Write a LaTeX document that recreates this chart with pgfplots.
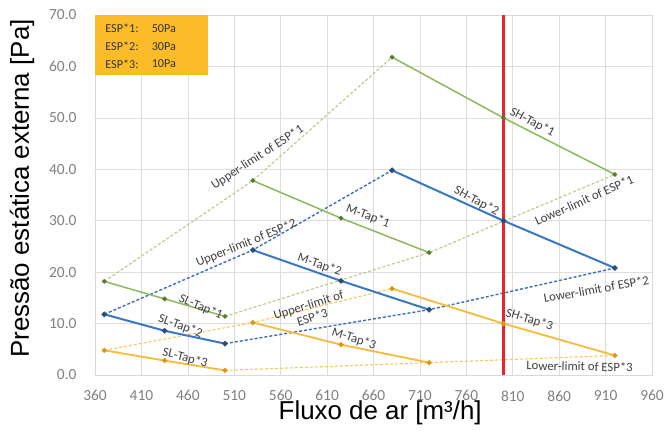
\documentclass[border=0pt]{standalone}
\usepackage{pgfplots}
\pgfplotsset{compat=1.18}
\usepackage{fontspec}
\setmainfont{Carlito}
\newfontfamily\arial{Liberation Sans}

\definecolor{gsol}{HTML}{8DB85E}
\definecolor{gdash}{HTML}{B3CB88}
\definecolor{gmark}{HTML}{557A30}
\definecolor{bsol}{HTML}{3A78C2}
\definecolor{bdash}{HTML}{3B6EBF}
\definecolor{bmark}{HTML}{2C4D7C}
\definecolor{osol}{HTML}{F7BA3A}
\definecolor{odash}{HTML}{F9C65C}
\definecolor{omark}{HTML}{D89A10}
\definecolor{redl}{HTML}{E8242C}
\definecolor{boxor}{HTML}{FCBC2A}
\definecolor{annot}{HTML}{404040}

\newcommand{\ann}{\fontsize{12.8}{13}\selectfont}

\begin{document}
\begin{tikzpicture}
\begin{axis}[
  scale only axis, width=557bp, height=360bp,
  xmin=360, xmax=960, ymin=0, ymax=70,
  xtick={360,410,...,960}, ytick={0,10,...,70},
  grid=major, grid style={draw=black!13, line width=0.6bp},
  axis line style={draw=black!15},
  major tick length=0pt,
  /pgf/number format/assume math mode=true,
  /pgf/number format/set thousands separator={},
  ticklabel style={font=\fontsize{15.5}{17}\selectfont, text=black!50},
  yticklabel style={/pgf/number format/fixed, /pgf/number format/fixed zerofill, /pgf/number format/precision=1, xshift=-15bp},
  xticklabel style={yshift=-12bp},
  xlabel={Fluxo de ar [m³/h]},
  ylabel={Pressão estática externa [Pa]},
  xlabel style={at={(axis description cs:0.512,-0.106)}, anchor=center, font=\arial\fontsize{26}{28}\selectfont},
  ylabel style={at={(axis description cs:-0.131,0.518)}, anchor=center, font=\arial\fontsize{26}{28}\selectfont},
  clip=false,
]
% limit lines (dashed)
\addplot[gdash, line width=1.1bp, dash pattern=on 3bp off 2bp] coordinates {(370,18.2) (530,37.8) (680,61.8)};
\addplot[gdash, line width=1.1bp, dash pattern=on 3bp off 2bp] coordinates {(500,11.4) (720,23.8) (920,39.0)};
\addplot[bdash, line width=1.4bp, dash pattern=on 3bp off 2bp] coordinates {(370,11.8) (530,24.3) (680,39.8)};
\addplot[bdash, line width=1.4bp, dash pattern=on 3bp off 2bp] coordinates {(500,6.1) (720,12.7) (920,20.8)};
\addplot[odash, line width=1.1bp, dash pattern=on 3bp off 2bp] coordinates {(370,4.8) (530,10.2) (680,16.8)};
\addplot[odash, line width=1.1bp, dash pattern=on 3bp off 2bp] coordinates {(500,0.9) (720,2.4) (920,3.8)};
% tap lines, ESP*1
\addplot[gsol, line width=1.5bp, mark=*, mark size=1.5bp, mark options={fill=gmark, draw=gmark}] coordinates {(370,18.2) (435,14.8) (500,11.4)};
\addplot[gsol, line width=1.5bp, mark=*, mark size=1.5bp, mark options={fill=gmark, draw=gmark}] coordinates {(530,37.8) (625,30.5) (720,23.8)};
\addplot[gsol, line width=1.5bp, mark=*, mark size=1.5bp, mark options={fill=gmark, draw=gmark}] coordinates {(680,61.8) (800,50.0) (920,39.0)};
% ESP*2
\addplot[bsol, line width=2bp, mark=*, mark size=1.6bp, mark options={fill=bmark, draw=bmark}] coordinates {(370,11.8) (435,8.6) (500,6.1)};
\addplot[bsol, line width=2bp, mark=*, mark size=1.6bp, mark options={fill=bmark, draw=bmark}] coordinates {(530,24.3) (625,18.3) (720,12.7)};
\addplot[bsol, line width=2bp, mark=*, mark size=1.6bp, mark options={fill=bmark, draw=bmark}] coordinates {(680,39.8) (800,30.0) (920,20.8)};
% ESP*3
\addplot[osol, line width=1.8bp, mark=*, mark size=1.5bp, mark options={fill=omark, draw=omark}] coordinates {(370,4.8) (435,2.8) (500,0.9)};
\addplot[osol, line width=1.8bp, mark=*, mark size=1.5bp, mark options={fill=omark, draw=omark}] coordinates {(530,10.2) (625,5.9) (720,2.4)};
\addplot[osol, line width=1.8bp, mark=*, mark size=1.5bp, mark options={fill=omark, draw=omark}] coordinates {(680,16.8) (800,10.0) (920,3.8)};
% operating flow
\addplot[redl, line width=2.5bp] coordinates {(800,0) (800,70)};

% ESP box
\fill[boxor] (axis cs:360,70) rectangle (axis cs:482,58.3);
\begin{scope}[every node/.style={anchor=west, inner sep=0pt, font=\fontsize{12.2}{13}\selectfont, text=black!80}]
\node at (axis cs:371,67.4) {ESP*1:};
\node at (axis cs:421,67.4) {50Pa};
\node at (axis cs:371,63.9) {ESP*2:};
\node at (axis cs:421,63.9) {30Pa};
\node at (axis cs:371,60.5) {ESP*3:};
\node at (axis cs:421,60.5) {10Pa};
\end{scope}

% line labels
\begin{scope}[every node/.style={font=\ann, text=annot, inner sep=0pt}]
\node[rotate=33] at (axis cs:535,42.3) {Upper-limit of ESP*1};
\node[rotate=22] at (axis cs:523,25.6) {Upper-limit of ESP*2};
\node[rotate=17, align=center] at (axis cs:592,12.4) {Upper-limit of\\ESP*3};
\node[rotate=-21] at (axis cs:654,30.9) {M-Tap*1};
\node[rotate=-19] at (axis cs:602,21.4) {M-Tap*2};
\node[rotate=-18] at (axis cs:639,7.0) {M-Tap*3};
\node[rotate=-23] at (axis cs:474,13.2) {SL-Tap*1};
\node[rotate=-20] at (axis cs:452,9.5) {SL-Tap*2};
\node[rotate=-15] at (axis cs:457,3.3) {SL-Tap*3};
\node[rotate=-28] at (axis cs:831,49.1) {SH-Tap*1};
\node[rotate=-28] at (axis cs:771,33.8) {SH-Tap*2};
\node[rotate=-17] at (axis cs:828,10.7) {SH-Tap*3};
\node[rotate=24] at (axis cs:887,34.0) {Lower-limit of ESP*1};
\node[rotate=10] at (axis cs:900,16.7) {Lower-limit of ESP*2};
\node[rotate=-1] at (axis cs:882,1.7) {Lower-limit of ESP*3};
\end{scope}
\end{axis}
\pgfresetboundingbox
\path[use as bounding box] (-95bp,-62bp) rectangle (570bp,375bp);
\end{tikzpicture}
\end{document}
